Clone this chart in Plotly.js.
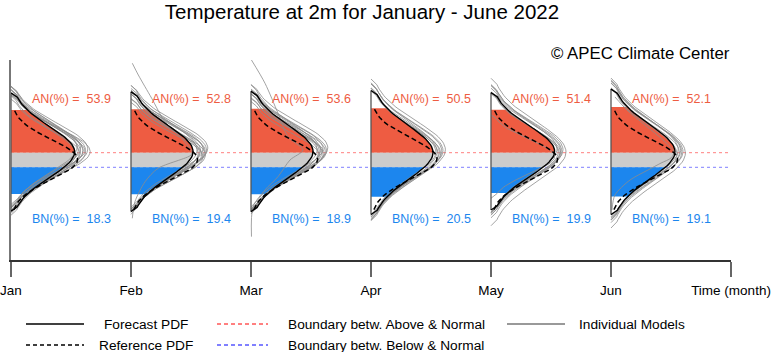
<!DOCTYPE html>
<html>
<head>
<meta charset="utf-8">
<script src="https://cdn.plot.ly/plotly-3.0.1.min.js"></script>
<style>html,body{margin:0;padding:0;background:#fff;}#chart{width:772px;height:352px;}</style>
</head>
<body>
<div id="chart"></div>
<script>
// ---- data (y in anomaly units, widths in months) ----
const months = ['Jan', 'Feb', 'Mar', 'Apr', 'May', 'Jun'];
const tickLabels = ['Jan', 'Feb', 'Mar', 'Apr', 'May', 'Jun', 'Time (month)'];
const anPct = [53.9, 52.8, 53.6, 50.5, 51.4, 52.1];
const bnPct = [18.3, 19.4, 18.9, 20.5, 19.9, 19.1];
const upperBound = 0.43;   // boundary between Above & Normal
const lowerBound = -0.43;  // boundary between Below & Normal

// Forecast PDF parameters (mode, spread, peak width)
const fcMode = [0.47, 0.49, 0.50, 0.44, 0.51, 0.48];
const fcSd = [1.50, 1.52, 1.53, 1.58, 1.49, 1.60];
const fcPeak = [0.53, 0.517, 0.517, 0.517, 0.53, 0.533];

// Reference PDF parameters
const refMode = [0.03, 0.03, 0.03, 0.08, 0.03, 0.03];
const refSd = [1.18, 1.18, 1.18, 1.20, 1.18, 1.18];
const refPeak = [0.555, 0.555, 0.555, 0.55, 0.555, 0.555];

// Individual model PDFs
const modelMode = [
  [0.60, 0.70, 0.55, 0.45, 0.65, 0.50, 0.40, 0.75, 0.35, 0.55, 0.62, 0.48],
  [0.55, 0.65, 0.50, 0.40, 0.70, 0.30, 0.20, 0.60, 0.45, 0.58, 0.35, 0.52],
  [0.58, 0.68, 0.50, 0.42, 0.72, 0.35, 0.25, 0.62, 0.45, 0.55, 0.38, 0.50],
  [0.55, 0.60, 0.45, 0.50, 0.40, 0.35, 0.52, 0.48],
  [0.47, 0.20, 0.55, 0.60, 0.45, 0.38, 0.52, 0.65, 0.42],
  [0.41, 0.55, 0.60, 0.45, 0.50, 0.35, 0.48]
];
const modelSd = [
  [1.45, 1.40, 1.38, 1.42, 1.50, 1.35, 1.30, 1.45, 1.40, 1.55, 1.32, 1.48],
  [1.45, 1.40, 1.38, 1.42, 1.50, 1.35, 1.30, 1.55, 1.40, 1.48, 1.32, 1.45],
  [1.45, 1.40, 1.38, 1.42, 1.52, 1.35, 1.30, 1.55, 1.40, 1.48, 1.32, 1.45],
  [1.60, 1.70, 1.55, 1.65, 1.50, 1.58, 1.62, 1.52],
  [1.77, 1.00, 1.50, 1.55, 1.45, 1.48, 1.60, 1.52, 1.42],
  [1.80, 1.62, 1.68, 1.55, 1.65, 1.58, 1.70]
];
const modelPeak = [
  [0.56, 0.58, 0.60, 0.62, 0.64, 0.66, 0.57, 0.55, 0.54, 0.60, 0.62, 0.58],
  [0.58, 0.60, 0.62, 0.56, 0.64, 0.62, 0.60, 0.55, 0.57, 0.63, 0.59, 0.61],
  [0.58, 0.60, 0.62, 0.56, 0.64, 0.60, 0.57, 0.55, 0.59, 0.63, 0.61, 0.57],
  [0.60, 0.62, 0.57, 0.55, 0.58, 0.56, 0.59, 0.54],
  [0.625, 0.53, 0.58, 0.60, 0.56, 0.57, 0.59, 0.55, 0.58],
  [0.62, 0.58, 0.56, 0.57, 0.60, 0.55, 0.59]
];
// Irregular model curves traced point by point (month index, y, width)
const oddModelMonth = [1, 2, 5];
const oddModelY = [
  [-3.43, -2.45, -1.28, -0.49, 0.29, 0.49, 1.28, 2.25, 3.63, 5.00, 5.69],
  [-4.51, -2.75, -1.76, -0.98, 0.00, 0.59, 1.37, 2.75, 4.51, 5.88],
  [-2.94, -2.06, -1.18, -0.59, -0.18, 0.12, 0.47, 1.18, 2.06, 2.94, 3.71]
];
const oddModelW = [
  [0.011, 0.033, 0.117, 0.225, 0.50, 0.506, 0.4225, 0.283, 0.1725, 0.061, 0.011],
  [0.004, 0.017, 0.117, 0.225, 0.325, 0.433, 0.308, 0.225, 0.117, 0.004],
  [0.008, 0.033, 0.158, 0.308, 0.417, 0.50, 0.525, 0.433, 0.283, 0.133, 0.033]
];

// ---- colours ----
const C_AN = '#EE5C42', C_BN = '#1C86EE', C_NN = '#CCCCCC', C_MODEL = '#8c8c8c';
const FONT = 'Liberation Sans, Arial, Helvetica, sans-serif';

// density shape evaluated from the parameters above
function shape(y, mode, sd, peak) {
  const z = (y - mode) / sd;
  return peak * Math.exp(-0.5 * z * z);
}
function curve(base, mode, sd, peak, y0, y1, n) {
  const xs = [], ys = [];
  for (let k = 0; k <= n; k++) {
    const y = y0 + (y1 - y0) * k / n;
    xs.push(base + shape(y, mode, sd, peak));
    ys.push(y);
  }
  return {x: xs, y: ys};
}
function band(base, mode, sd, peak, y0, y1) {
  const c = curve(base, mode, sd, peak, y0, y1, 40);
  c.x.push(base, base); c.y.push(y1, y0);
  return c;
}

const traces = [];
// boundary lines
traces.push({x: [0, 6], y: [upperBound, upperBound], mode: 'lines', hoverinfo: 'skip',
  line: {color: 'rgba(255,0,0,0.5)', width: 1, dash: '3px,3px'}});
traces.push({x: [0, 6], y: [lowerBound, lowerBound], mode: 'lines', hoverinfo: 'skip',
  line: {color: 'rgba(0,0,255,0.5)', width: 1, dash: '3px,3px'}});

months.forEach((m, i) => {
  const top = fcMode[i] + 1.645 * fcSd[i], bot = fcMode[i] - 1.645 * fcSd[i];
  [[upperBound, top, C_AN], [lowerBound, upperBound, C_NN], [bot, lowerBound, C_BN]].forEach(b => {
    const c = band(i, fcMode[i], fcSd[i], fcPeak[i], b[0], b[1]);
    traces.push({x: c.x, y: c.y, mode: 'lines', fill: 'toself', fillcolor: b[2],
      line: {width: 0, color: b[2]}, hoverinfo: 'skip'});
  });
  // individual models
  const mx = [], my = [];
  modelMode[i].forEach((mm, k) => {
    const s = modelSd[i][k];
    const c = curve(i, mm, s, modelPeak[i][k], mm - 2.25 * s, mm + 2.25 * s, 60);
    mx.push(i, ...c.x, i, null);
    my.push(mm - 2.45 * s, ...c.y, mm + 2.45 * s, null);
  });
  traces.push({x: mx, y: my, mode: 'lines', line: {color: C_MODEL, width: 0.8}, hoverinfo: 'skip'});
  oddModelMonth.forEach((om, k) => {
    if (om !== i) return;
    traces.push({x: oddModelW[k].map(w => i + w), y: oddModelY[k], mode: 'lines',
      line: {color: C_MODEL, width: 0.8, shape: 'spline', smoothing: 0.8}, hoverinfo: 'skip'});
  });
  // reference PDF
  const r = curve(i, refMode[i], refSd[i], refPeak[i], refMode[i] - 2.5 * refSd[i], refMode[i] + 2.5 * refSd[i], 60);
  traces.push({x: r.x, y: r.y, mode: 'lines', line: {color: '#000', width: 1.5, dash: '5px,3px'}, hoverinfo: 'skip'});
  // forecast PDF, tails running into its baseline
  const y0 = fcMode[i] - 2.15 * fcSd[i], y1 = fcMode[i] + 2.15 * fcSd[i];
  const f = curve(i, fcMode[i], fcSd[i], fcPeak[i], y0, y1, 60);
  f.x.unshift(i); f.y.unshift(y0 - 0.25);
  f.x.push(i); f.y.push(y1 + 0.25);
  traces.push({x: [i, i], y: [y0 - 0.25, y1 + 0.25], mode: 'lines', line: {color: '#555', width: 1.3}, hoverinfo: 'skip'});
  traces.push({x: f.x, y: f.y, mode: 'lines', line: {color: '#000', width: 1.4}, hoverinfo: 'skip'});
});

// ---- annotations ----
const ann = [];
months.forEach((m, i) => {
  ann.push({x: i + 0.5, y: 3.59, xref: 'x', yref: 'y', showarrow: false,
    text: 'AN(%) =\u00a0 ' + anPct[i].toFixed(1), font: {family: FONT, size: 12.5, color: C_AN}});
  ann.push({x: i + 0.5, y: -3.47, xref: 'x', yref: 'y', showarrow: false,
    text: 'BN(%) =\u00a0 ' + bnPct[i].toFixed(1), font: {family: FONT, size: 12.5, color: C_BN}});
});
const px = v => v / 772, py = v => (260 - v) / 200;
ann.push({x: px(732), y: py(53), xref: 'paper', yref: 'paper', xanchor: 'right', yanchor: 'middle',
  showarrow: false, text: '© APEC Climate Center', font: {family: FONT, size: 16.8, color: '#000'}});
const legTxt = [
  ['Forecast PDF', 146, 324, 'center'], ['Reference PDF', 146, 345, 'center'],
  ['Boundary betw. Above & Normal', 286, 324, 'left'], ['Boundary betw. Below & Normal', 286, 345, 'left'],
  ['Individual Models', 577, 324, 'left']
];
legTxt.forEach(t => ann.push({x: px(t[1]), y: py(t[2]), xref: 'paper', yref: 'paper', xanchor: t[3],
  yanchor: 'middle', showarrow: false, text: t[0], font: {family: FONT, size: 13.7, color: '#000'}}));

const legLines = [
  [26, 84, 324, '#000', 1.5, 'solid'], [26, 84, 345, '#000', 1.5, 'dash'],
  [217, 268, 324, '#ff0000', 1, 'dash'], [217, 268, 345, '#0000ff', 1, 'dash'],
  [507, 565, 324, '#999', 2, 'solid']
];
const shapes = legLines.map(l => ({type: 'line', xref: 'paper', yref: 'paper',
  x0: px(l[0]), x1: px(l[1]), y0: py(l[2]), y1: py(l[2]),
  line: {color: l[3], width: l[4], dash: l[5] === 'dash' ? '4px,3px' : 'solid'}}));

const layout = {
  width: 772, height: 352,
  margin: {l: 0, r: 0, t: 60, b: 92},
  paper_bgcolor: '#fff', plot_bgcolor: '#fff',
  showlegend: false,
  title: {text: 'Temperature at 2m for January - June 2022', xref: 'container', yref: 'container',
    x: 362 / 772, y: 1 - 12 / 352, xanchor: 'center', yanchor: 'middle',
    font: {family: FONT, size: 20.5, color: '#000'}},
  xaxis: {domain: [11 / 772, 731 / 772], range: [0, 6], tickvals: [0, 1, 2, 3, 4, 5, 6], ticktext: tickLabels,
    ticks: 'outside', ticklen: 15, tickwidth: 1.5, tickcolor: '#666', showline: true, linecolor: '#333',
    linewidth: 2, showgrid: false, zeroline: false, ticklabelstandoff: 2,
    tickfont: {family: FONT, size: 13.5, color: '#000'}},
  yaxis: {range: [-5.882, 5.882], showline: true, linecolor: '#777', linewidth: 2, ticks: '',
    showticklabels: false, showgrid: false, zeroline: false},
  annotations: ann,
  shapes: shapes
};
Plotly.newPlot('chart', traces, layout, {displayModeBar: false, staticPlot: true});
</script>
</body>
</html>
